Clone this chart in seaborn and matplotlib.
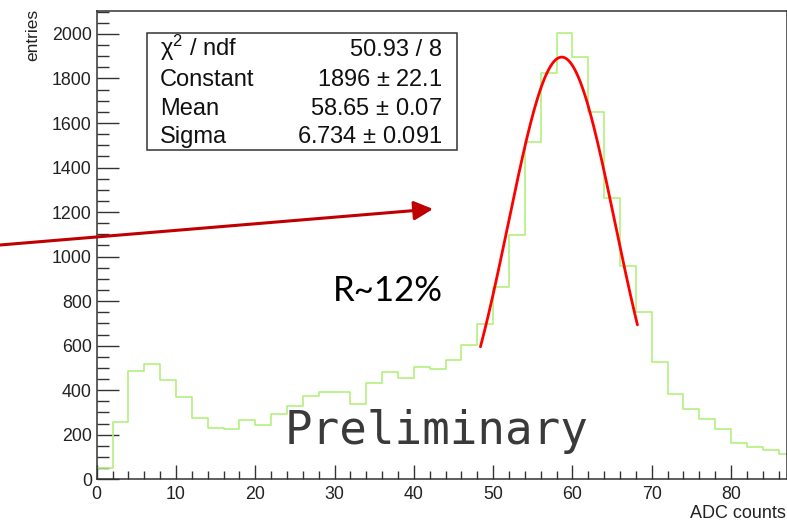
import numpy as np
import pandas as pd
import matplotlib
matplotlib.use("Agg")
import matplotlib.pyplot as plt
import seaborn as sns
from matplotlib.patches import FancyArrowPatch, Rectangle
from matplotlib.ticker import MultipleLocator

# ADC spectrum, 2-count wide bins from 0 to 88
bin_edges = list(range(0, 90, 2))
counts = [52, 259, 486, 519, 447, 371, 277, 230, 224, 265,
          242, 293, 329, 374, 392, 392, 337, 431, 480, 453,
          503, 497, 537, 603, 697, 865, 1097, 1515, 1826, 2003,
          1898, 1648, 1265, 959, 750, 525, 382, 314, 271, 226,
          162, 146, 132, 114]

# Gaussian fit result and fit range
fit_constant = 1896.0
fit_mean = 58.65
fit_sigma = 6.734
fit_range = (48.4, 68.2)

stat_names = ["χ$^{2}$ / ndf", "Constant", "Mean", "Sigma"]
stat_values = ["50.93 / 8", "1896 $\\pm$ 22.1", "58.65 $\\pm$ 0.07", "6.734 $\\pm$ 0.091"]

sns.set_style("ticks")
plt.rcParams["font.family"] = ["Liberation Sans", "DejaVu Sans"]
plt.rcParams["mathtext.fontset"] = "custom"
plt.rcParams["mathtext.rm"] = "Liberation Sans"
plt.rcParams["mathtext.it"] = "Liberation Sans:italic"

W, H = 787, 522
fig = plt.figure(figsize=(W / 100, H / 100), dpi=100)
ax = fig.add_axes([96.7 / W, 1 - 479.3 / H, (786.5 - 96.7) / W, (479.3 - 11) / H])

df = pd.DataFrame({
    "adc": [(a + b) / 2 for a, b in zip(bin_edges[:-1], bin_edges[1:])],
    "entries": counts,
})
sns.histplot(data=df, x="adc", weights="entries", bins=bin_edges,
             element="step", fill=False, color="#b2f07e", linewidth=1.2, ax=ax)

xfit = np.linspace(fit_range[0], fit_range[1], 200)
yfit = fit_constant * np.exp(-0.5 * ((xfit - fit_mean) / fit_sigma) ** 2)
sns.lineplot(x=xfit, y=yfit, color="#ff0000", linewidth=2.0, ax=ax)

ax.set_xlim(0, 87)
ax.set_ylim(0, 2103)
ax.set_xlabel("")
ax.set_ylabel("")
ax.xaxis.set_major_locator(MultipleLocator(10))
ax.xaxis.set_minor_locator(MultipleLocator(2))
ax.yaxis.set_major_locator(MultipleLocator(200))
ax.yaxis.set_minor_locator(MultipleLocator(50))
ax.tick_params(axis="both", which="both", direction="in", colors="#333333",
               labelcolor="#222222", labelsize=12.8, width=1.0)
ax.tick_params(axis="x", which="major", length=10, pad=5)
ax.tick_params(axis="x", which="minor", length=5.8)
ax.tick_params(axis="y", which="major", length=15.6, pad=3.5)
ax.tick_params(axis="y", which="minor", length=8.6)
for side in ["left", "bottom", "top", "right"]:
    ax.spines[side].set_visible(True)
    ax.spines[side].set_color("#333333")
    ax.spines[side].set_linewidth(1.1)

# axis titles
fig.text(33 / W, 1 - 9 / H, "entries", rotation=90, ha="center", va="top",
         fontsize=12.5, color="#222222")
fig.text(786 / W, 1 - 514 / H, "ADC counts", ha="right", va="center",
         fontsize=13, color="#222222")

# fit statistics box
box_l, box_r, box_t, box_b = 146.7, 457.3, 33.3, 150.0
fig.add_artist(Rectangle((box_l / W, 1 - box_b / H), (box_r - box_l) / W,
                         (box_b - box_t) / H, transform=fig.transFigure,
                         facecolor="white", edgecolor="#333333", linewidth=1.1,
                         zorder=5))
baselines = [56, 86, 115, 143]
for name, val, yb in zip(stat_names, stat_values, baselines):
    fig.text(160 / W, 1 - yb / H, name, ha="left", va="baseline",
             fontsize=17, color="#111111", zorder=6)
    fig.text(442 / W, 1 - yb / H, val, ha="right", va="baseline",
             fontsize=17, color="#111111", zorder=6)

# annotations
fig.add_artist(FancyArrowPatch((0 / W, 1 - 245 / H), (433 / W, 1 - 209 / H),
                               transform=fig.transFigure,
                               arrowstyle="-|>,head_length=11.5,head_width=5.8",
                               mutation_scale=1, color="#c00000",
                               linewidth=2.2, shrinkA=0, shrinkB=0, zorder=7))
fig.text(333 / W, 1 - 301 / H, "R~12%", ha="left", va="baseline",
         fontsize=25, family=["Lato", "DejaVu Sans"], color="#000000")
fig.text(285 / W, 1 - 444 / H, "Preliminary", ha="left", va="baseline",
         fontsize=33, family=["DejaVu Sans Mono"], color="#3a3a3a")

fig.savefig("out.png", dpi=100)
